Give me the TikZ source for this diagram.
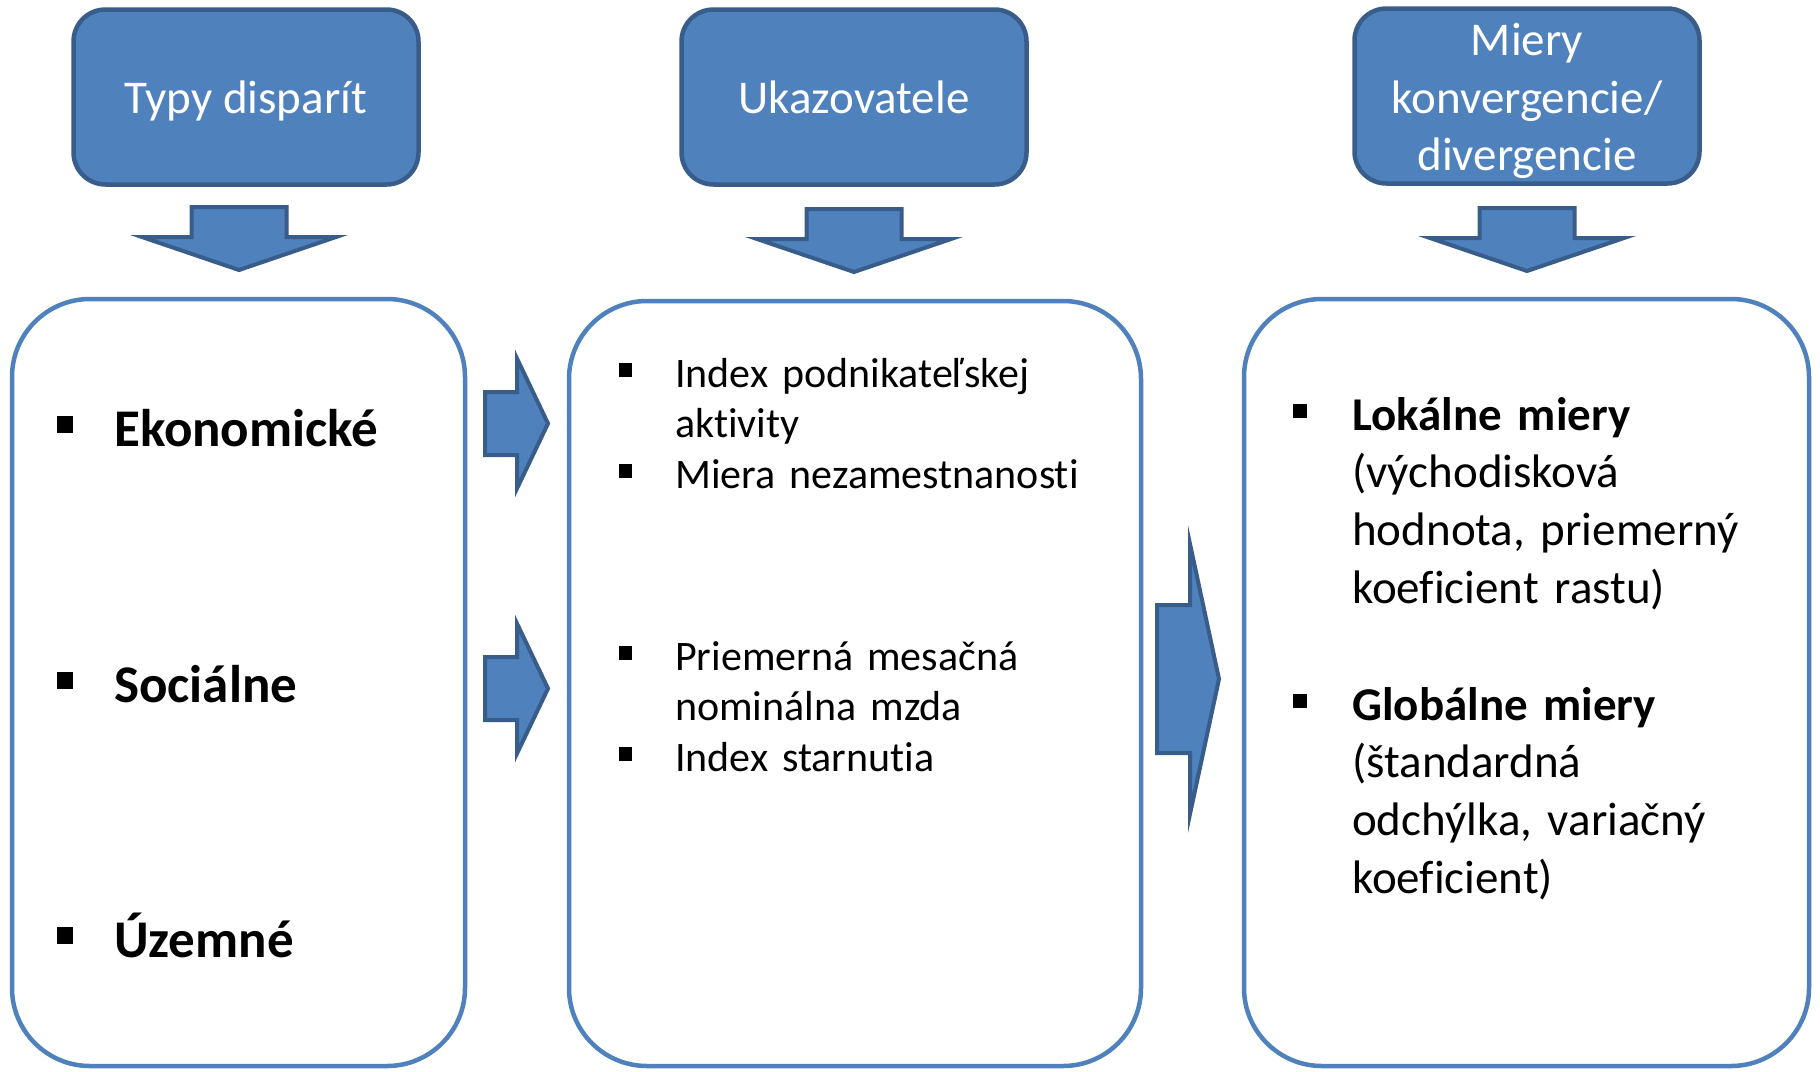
\documentclass[tikz,border=0pt]{standalone}
\usepackage{fontspec}
\setmainfont{Carlito}[Ligatures=NoCommon]
\usetikzlibrary{positioning}
\definecolor{boxblue}{HTML}{4F81BD}
\definecolor{darkblue}{HTML}{385D8A}
\newcommand{\blt}[1][0.9em]{\leavevmode\llap{\rule[0.25em]{0.31em}{0.31em}\hspace{#1}}}

\begin{document}
\begin{tikzpicture}[x=1pt, y=-1pt,
    header/.style={draw=darkblue, fill=boxblue, line width=4.5pt, rounded corners=32pt, text=white, align=center,
        font=\fontsize{47}{57.5}\selectfont, minimum width=345pt, minimum height=175pt, inner sep=0pt},
    oneline/.style={text height=40pt, text depth=8pt},
    panel/.style={draw=boxblue, line width=4.5pt, rounded corners=78pt},
    blockarrow/.style={draw=darkblue, fill=boxblue, line width=4pt, line join=miter},
    typetext/.style={anchor=base west, inner sep=0pt, font=\bfseries\fontsize{53}{62}\selectfont},
    listtext/.style={anchor=base west, inner sep=0pt, text width=460pt, align=left, font=\fontsize{42}{50.5}\selectfont},
    measuretext/.style={anchor=base west, inner sep=0pt, text width=455pt, align=left, font=\fontsize{47}{57.7}\selectfont}]
\useasboundingbox (0,0) rectangle (1820,1071);

\node[header, oneline] (hdrtypy) at (246,97) {Typy disparít};
\node[header, oneline] (hdrukaz) at (854,97) {Ukazovatele};
\node[header] (hdrmiery) at (1527,96) {};
\node[text=white, align=center, font=\fontsize{47}{57.5}\selectfont] (hdrmierytext) at (1527,101) {Miery\\konvergencie/\\divergencie};

\foreach \cx/\ty in {239/207, 854/209, 1527/208}
{
    \draw[blockarrow] (\cx-47.5,\ty) -- (\cx+47.5,\ty) -- (\cx+47.5,\ty+30) -- (\cx+97,\ty+30)
        -- (\cx,\ty+63) -- (\cx-97,\ty+30) -- (\cx-47.5,\ty+30) -- cycle;
}

\draw[panel] (12,299) rectangle (465,1066);
\draw[panel] (569,301) rectangle (1141,1066);
\draw[panel] (1244,299) rectangle (1809,1066);

\foreach \cy in {423.5, 688.5}
{
    \draw[blockarrow] (485,\cy-31.5) -- (517,\cy-31.5) -- (517,\cy-65) -- (548,\cy)
        -- (517,\cy+65) -- (517,\cy+31.5) -- (485,\cy+31.5) -- cycle;
}
\draw[blockarrow] (1157,605) -- (1190,605) -- (1190,544) -- (1219,679)
    -- (1190,814) -- (1190,753) -- (1157,753) -- cycle;

\node[typetext] (itemeko) at (114,446) {\blt[0.77em]Ekonomické};
\node[typetext] (itemsoc) at (114,702) {\blt[0.77em]Sociálne};
\node[typetext] (itemuz) at (114,957) {\blt[0.77em]Územné};

\node[listtext] (ukazeko) at (675,387) {\blt[1.02em]Index podnikateľskej\\aktivity\\\blt[1.02em]Miera nezamestnanosti};
\node[listtext] (ukazsoc) at (675,670) {\blt[1.02em]Priemerná mesačná\\nominálna mzda\\\blt[1.02em]Index starnutia};

\node[measuretext] (mieryloc) at (1352,430) {\blt[0.96em]\textbf{Lokálne miery}\\(východisková\\hodnota, priemerný\\koeficient rastu)};
\node[measuretext] (mieryglob) at (1352,720) {\blt[0.96em]\textbf{Globálne miery}\\(štandardná\\odchýlka, variačný\\koeficient)};
\end{tikzpicture}
\end{document}
